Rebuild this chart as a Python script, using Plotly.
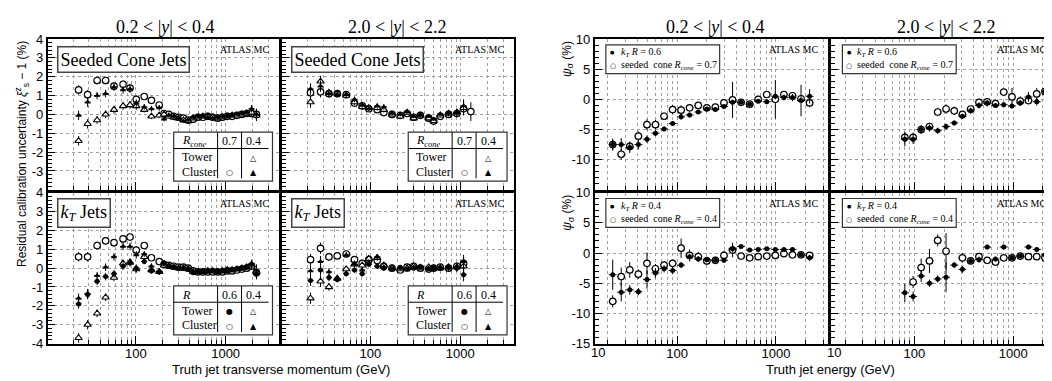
import numpy as np
import plotly.graph_objects as go

W, H = 1052, 381

# ---------------- data ----------------
# Left group: residual calibration uncertainty (%), truth-jet pT (GeV)
pt_central = [23, 29, 37, 46, 57, 72, 86, 101, 124, 149, 182, 206, 233, 264, 299, 339, 384, 435,
              493, 559, 633, 717, 812, 920, 1043, 1181, 1338, 1516, 1718, 1946, 2205]
cone_c_cluster07 = [1.3, 1.05, 1.8, 1.8, 1.5, 1.6, 1.4, 0.8, 0.95, 0.75, 0.5, 0.05, 0.0, -0.1, -0.15, -0.2,
                    -0.3, -0.25, -0.15, -0.15, -0.1, -0.15, -0.2, -0.15, -0.1, -0.1, -0.05, 0.0, 0.05, 0.05, 0.0]
cone_c_cluster04 = [-0.05, 0.65, 1.0, 1.1, 1.45, 1.3, 1.35, 0.6, 0.4, 0.3, 0.35, -0.25, -0.05, -0.1, -0.2, -0.35,
                    -0.3, -0.15, -0.1, -0.1, -0.15, -0.2, -0.15, -0.1, -0.1, -0.05, 0.0, 0.05, 0.1, 0.3, 0.0]
cone_c_tower04 = [-1.4, -0.5, -0.3, 0.0, 0.25, 0.45, 0.5, 0.45, 0.25, -0.1, -0.05, 0.0, -0.1, -0.15, -0.2, -0.3,
                  -0.35, -0.2, -0.15, -0.1, -0.1, -0.15, -0.2, -0.15, -0.1, -0.05, -0.05, 0.0, 0.05, 0.1, -0.05]
kt_c_cluster06 = [0.6, 0.6, 1.2, 1.45, 1.35, 1.55, 1.65, 0.95, 1.2, 0.55, 0.35, 0.2, 0.15, 0.1, 0.05, 0.05,
                  0.0, -0.15, -0.2, -0.2, -0.2, -0.2, -0.2, -0.2, -0.15, -0.15, -0.1, -0.05, 0.0, 0.1, -0.25]
kt_c_tower06 = [-1.9, -1.4, -0.7, -0.45, -0.3, 0.1, 0.3, 0.0, 0.35, -0.15, -0.2, 0.25, 0.1, 0.05, 0.0, 0.0,
                -0.05, -0.25, -0.2, -0.15, -0.15, -0.15, -0.2, -0.15, -0.15, -0.1, -0.05, 0.0, 0.05, 0.2, -0.3]
kt_c_tower04 = [-3.7, -3.0, -2.4, -1.55, -0.5, 0.25, 0.3, -0.05, 0.6, -0.1, -0.2, 0.15, 0.1, 0.05, 0.0, 0.0,
                -0.05, -0.2, -0.2, -0.2, -0.15, -0.15, -0.2, -0.15, -0.1, -0.1, -0.05, 0.0, 0.05, 0.15, -0.2]
kt_c_cluster04 = [-1.6, -1.35, -0.4, 0.05, 0.6, 1.15, 1.15, 0.7, 0.75, 0.1, -0.15, 0.3, 0.15, 0.05, 0.0, 0.0,
                  -0.05, -0.2, -0.2, -0.2, -0.2, -0.15, -0.15, -0.15, -0.1, -0.1, -0.05, 0.0, 0.05, 0.25, -0.1]
err_central = [0.25, 0.25, 0.2, 0.2, 0.2, 0.2, 0.2, 0.2, 0.15, 0.15, 0.15, 0.12, 0.1, 0.1, 0.1, 0.1,
               0.1, 0.1, 0.1, 0.1, 0.1, 0.1, 0.1, 0.1, 0.1, 0.1, 0.1, 0.12, 0.15, 0.2, 0.3]

pt_forward = [21.5, 27.8, 34.5, 42.7, 53.7, 66.4, 81, 96, 119, 141, 174, 215, 256, 303, 360, 446,
              506, 600, 743, 918, 1091, 1315]
cone_f_cluster07 = [1.15, 1.2, 1.1, 1.1, 1.05, 0.6, 0.45, 0.3, 0.25, 0.1, 0.0, -0.05, 0.05, -0.15, -0.05, -0.2,
                    -0.35, -0.1, 0.0, 0.05, 0.3, 0.15]
cone_f_cluster04 = [1.35, 1.5, 1.1, 1.05, 1.05, 0.8, 0.5, 0.3, 0.45, 0.4, 0.05, 0.0, 0.15, -0.1, -0.05, -0.1,
                    -0.25, 0.0, 0.05, 0.1, 0.45, None]
cone_f_tower04 = [0.65, 1.75, 1.15, 1.1, 1.0, 0.65, 0.4, 0.35, 0.35, 0.25, 0.0, -0.1, 0.1, -0.2, -0.05, -0.2,
                  -0.35, -0.05, 0.05, 0.1, 0.35, None]
kt_f_tower06 = [-0.65, -0.1, -0.5, -0.6, -0.3, -0.1, -0.3, 0.2, 0.1, 0.0, -0.05, 0.05, -0.05, 0.0, 0.05, -0.05,
                0.0, 0.0, 0.05, 0.0, -0.35, None]
kt_f_cluster06 = [0.45, 1.05, 0.6, 0.65, 0.75, 0.45, 0.25, 0.45, 0.4, 0.1, 0.0, -0.1, 0.05, 0.1, 0.0, -0.05,
                  0.0, 0.05, 0.0, 0.1, 0.25, None]
kt_f_tower04 = [-1.6, -0.7, -1.0, -0.55, -0.05, 0.2, 0.15, 0.5, 0.55, 0.15, 0.0, -0.05, 0.0, 0.1, 0.0, 0.05,
                0.0, 0.0, 0.05, 0.05, 0.1, None]
kt_f_cluster04 = [-0.15, 0.35, -0.2, -0.6, 0.7, 0.2, -0.1, 0.3, 0.6, 0.05, -0.05, 0.0, -0.1, 0.05, 0.1, 0.0,
                  -0.05, 0.05, 0.0, 0.05, 0.35, None]
err_forward = [0.3, 0.3, 0.2, 0.15, 0.15, 0.15, 0.15, 0.15, 0.15, 0.15, 0.1, 0.1, 0.1, 0.1, 0.1, 0.1,
               0.1, 0.1, 0.15, 0.2, 0.35, 0.5]

# Right group: psi_sigma (%), truth-jet energy (GeV)
e_central = [22.4, 27.3, 33.3, 40.7, 49.7, 60.6, 74, 90.3, 110, 134, 164, 200, 244, 298, 364, 444,
             542, 661, 807, 985, 1202, 1467, 1791, 2186]
psi_c_kt06 = [-7.5, -7.5, -8.0, -7.5, -6.6, -5.6, -4.9, -4.0, -2.9, -2.6, -2.1, -1.6, -1.7, -1.2, -0.5, -0.5,
              -0.8, -0.3, -0.4, 0.5, 0.3, 0.3, -0.2, 0.5]
psi_c_cone07 = [-7.5, -9.1, -7.8, -6.1, -4.2, -4.2, -2.8, -1.7, -1.8, -1.4, -1.0, -1.4, -1.3, -0.6, -0.1, -0.5,
                -0.8, 0.0, 0.8, 0.0, 0.8, 0.6, 0.1, -0.6]
err_psi_c_kt06 = [1.0, 1.1, 0.9, 0.8, 0.6, 0.5, 0.4, 0.4, 0.5, 0.4, 0.3, 0.3, 0.3, 0.3, 0.3, 0.3,
                  0.3, 0.3, 0.4, 0.5, 0.5, 0.6, 2.6, 1.2]
err_psi_c_cone07 = [0.8, 0.9, 0.8, 0.8, 0.9, 0.8, 0.6, 0.8, 0.8, 0.6, 0.4, 0.4, 0.4, 0.4, 3.0, 0.4,
                    0.4, 0.6, 0.5, 3.2, 0.5, 0.6, 0.6, 0.7]
psi_c_kt04 = [-3.6, -6.5, -6.1, -6.4, -4.4, -3.3, -2.6, -2.9, -2.0, -0.6, -1.0, -1.1, -1.2, -1.2, 0.7, 1.1,
              0.5, 0.6, 0.7, 0.6, 0.6, 0.6, -0.3, -0.8]
psi_c_cone04 = [-8.0, -3.9, -2.8, -3.5, -1.7, -2.6, -2.0, -1.7, 0.8, -0.4, -0.6, -1.3, -1.2, -0.4, 0.5, -0.5,
                -0.8, -0.6, -0.5, -0.4, -0.1, -0.3, -0.3, -0.4]
err_psi_c_kt04 = [2.5, 1.5, 0.8, 0.6, 1.5, 0.8, 0.6, 0.6, 0.5, 0.5, 0.5, 0.4, 0.4, 0.4, 0.6, 0.3,
                  0.3, 0.3, 0.3, 0.3, 0.3, 0.3, 0.4, 0.5]
err_psi_c_cone04 = [1.0, 1.5, 1.3, 0.8, 1.8, 0.8, 0.6, 0.6, 1.6, 1.0, 0.8, 0.7, 0.6, 0.8, 1.2, 0.4,
                    0.4, 0.3, 0.3, 0.3, 0.3, 0.3, 0.4, 0.5]

e_forward = [80, 97, 117, 142, 172, 209, 253, 306, 371, 450, 545, 661, 801, 971, 1177, 1426, 1729, 2095, 2540]
psi_f_kt06 = [-6.6, -6.6, -5.0, -4.75, -5.2, -4.5, -3.9, -2.8, -1.9, -1.0, -0.6, -1.0, -0.9, -1.1, -0.6, 0.4,
              -0.4, 1.3, -0.6]
psi_f_cone07 = [-6.3, -6.3, -5.0, -4.5, -2.1, -1.6, -1.9, -2.5, -1.6, -0.5, -0.4, -0.7, 1.2, 0.4, -0.3, -0.2,
                0.9, 1.3, 0.7]
err_psi_f_kt06 = [1.2, 0.8, 0.7, 0.6, 0.5, 0.5, 0.4, 0.4, 0.5, 0.5, 0.6, 0.4, 0.4, 0.4, 0.5, 0.8, 0.6, 0.5, 0.4]
err_psi_f_cone07 = [0.8, 0.8, 0.7, 0.6, 0.7, 0.8, 0.7, 0.5, 0.5, 0.5, 0.6, 0.5, 0.5, 1.5, 0.8, 0.6, 1.0, 0.6, 0.5]
psi_f_kt04 = [-6.6, -7.2, -3.8, -5.0, -4.3, -4.0, -2.0, -2.7, -1.3, -1.1, 1.0, -1.0, 1.0, -0.8, -0.5, 1.0,
              0.6, -0.3, 0.3]
psi_f_cone04 = [None, -4.8, -2.4, -1.3, 2.1, 0.3, None, -0.8, -1.3, -0.6, -1.2, -1.5, -0.8, -0.8, -0.5, -0.6,
                -0.6, -0.8, -0.7]
err_psi_f_kt04 = [1.5, 0.8, 1.0, 0.6, 0.6, 2.5, 0.5, 0.6, 0.5, 0.5, 0.4, 0.4, 0.4, 0.4, 0.4, 0.4, 0.4, 0.6, 0.5]
err_psi_f_cone04 = [0.0, 1.0, 1.5, 2.0, 1.0, 3.0, 0.0, 0.8, 0.5, 0.5, 0.5, 0.5, 0.5, 0.5, 0.5, 0.5, 0.5, 0.7, 0.7]

col_titles = ["0.2 < |<i>y</i>| < 0.4", "2.0 < |<i>y</i>| < 2.2"]
grid_vals = [20, 30, 40, 50, 60, 70, 80, 90, 200, 300, 400, 500, 600, 700, 800, 900, 2000, 3000]

# ---------------- geometry (pixels) ----------------
PANELS = {
    1: dict(x=(40, 272), y=(25, 182), xr=(1.02, 3.60), yr=(-4, 4), group="L", row=0, col=0),
    2: dict(x=(275, 507), y=(25, 182), xr=(1.02, 3.60), yr=(-4, 4), group="L", row=0, col=1),
    3: dict(x=(40, 272), y=(185, 342), xr=(1.02, 3.60), yr=(-4, 4), group="L", row=1, col=0),
    4: dict(x=(275, 507), y=(185, 342), xr=(1.02, 3.60), yr=(-4, 4), group="L", row=1, col=1),
    5: dict(x=(588, 822), y=(25, 182), xr=(1.17, 3.53), yr=(-15, 10), group="R", row=0, col=0),
    6: dict(x=(825, 1052), y=(25, 182), xr=(1.16, 3.453), yr=(-15, 10), group="R", row=0, col=1),
    7: dict(x=(588, 822), y=(185, 342), xr=(1.17, 3.53), yr=(-15, 10), group="R", row=1, col=0),
    8: dict(x=(825, 1052), y=(185, 342), xr=(1.16, 3.453), yr=(-15, 10), group="R", row=1, col=1),
}

def fx(px):
    return px / W

def fy(py):
    return 1 - py / H

SERIF = "Liberation Serif, Times New Roman, serif"
SANS = "Liberation Sans, Arial, sans-serif"
GRID = "#a0a0a0"

fig = go.Figure()

STY = {
    "oc": dict(symbol="circle", size=6.5, color="white", line=dict(color="black", width=1.2)),
    "fc": dict(symbol="circle", size=5, color="black", line=dict(color="black", width=0)),
    "ot": dict(symbol="triangle-up", size=6.5, color="white", line=dict(color="black", width=1.1)),
    "ft": dict(symbol="triangle-up", size=5.5, color="black", line=dict(color="black", width=0)),
}

def add(i, xs, ys, errs, sty, hw=0.04):
    keep = [k for k, v in enumerate(ys) if v is not None]
    x = np.array([xs[k] for k in keep], dtype=float)
    y = [ys[k] for k in keep]
    e = [errs[k] for k in keep]
    xp = x * (10 ** hw - 1)
    xm = x * (1 - 10 ** -hw)
    sfx = "" if i == 1 else str(i)
    fig.add_trace(go.Scatter(
        x=x, y=y, mode="markers", xaxis="x" + sfx, yaxis="y" + sfx,
        marker=STY[sty],
        error_y=dict(type="data", array=e, color="black", thickness=1, width=0),
        error_x=dict(type="data", array=xp, arrayminus=xm, symmetric=False, color="black", thickness=1, width=0),
        showlegend=False, hoverinfo="skip"))

# left group
add(1, pt_central, cone_c_cluster07, err_central, "oc", 0.035)
add(1, pt_central, cone_c_tower04, err_central, "ot", 0.035)
add(1, pt_central, cone_c_cluster04, err_central, "ft", 0.035)
add(2, pt_forward, cone_f_cluster07, err_forward, "oc", 0.035)
add(2, pt_forward, cone_f_tower04, err_forward, "ot", 0.035)
add(2, pt_forward, cone_f_cluster04, err_forward, "ft", 0.035)
add(3, pt_central, kt_c_cluster06, err_central, "oc", 0.035)
add(3, pt_central, kt_c_tower04, err_central, "ot", 0.035)
add(3, pt_central, kt_c_tower06, err_central, "fc", 0.035)
add(3, pt_central, kt_c_cluster04, err_central, "ft", 0.035)
add(4, pt_forward, kt_f_cluster06, err_forward, "oc", 0.035)
add(4, pt_forward, kt_f_tower04, err_forward, "ot", 0.035)
add(4, pt_forward, kt_f_tower06, err_forward, "fc", 0.035)
add(4, pt_forward, kt_f_cluster04, err_forward, "ft", 0.035)
# right group
add(5, e_central, psi_c_cone07, err_psi_c_cone07, "oc")
add(5, e_central, psi_c_kt06, err_psi_c_kt06, "fc")
add(6, e_forward, psi_f_cone07, err_psi_f_cone07, "oc")
add(6, e_forward, psi_f_kt06, err_psi_f_kt06, "fc")
add(7, e_central, psi_c_cone04, err_psi_c_cone04, "oc")
add(7, e_central, psi_c_kt04, err_psi_c_kt04, "fc")
add(8, e_forward, psi_f_cone04, err_psi_f_cone04, "oc")
add(8, e_forward, psi_f_kt04, err_psi_f_kt04, "fc")

layout = dict(width=W, height=H, margin=dict(l=0, r=0, t=0, b=0), paper_bgcolor="white",
              plot_bgcolor="white", showlegend=False)
tickfont = dict(family=SANS, size=13, color="black")
for i, p in PANELS.items():
    sfx = "" if i == 1 else str(i)
    show_x = p["row"] == 1
    xa = dict(domain=[fx(p["x"][0]), fx(p["x"][1])], type="log", range=list(p["xr"]),
              anchor="y" + sfx, showline=True, mirror=True, linecolor="black", linewidth=2,
              ticks="inside", ticklen=8, tickwidth=1, tickcolor="black",
              tickmode="array", tickvals=[100, 1000], ticktext=["100", "1000"],
              showticklabels=show_x, tickfont=tickfont, ticklabelstandoff=-3,
              showgrid=True, gridcolor=GRID, griddash="dot", gridwidth=1, zeroline=False,
              minor=dict(tickmode="array", tickvals=grid_vals, ticks="inside", ticklen=4,
                         tickcolor="black", showgrid=True, gridcolor=GRID, griddash="dot", gridwidth=1))
    if p["group"] == "L":
        yv = [-3, -2, -1, 0, 1, 2, 3, 4] if p["row"] == 0 else [-4, -3, -2, -1, 0, 1, 2, 3, 4]
        mdt = 0.2
    else:
        yv = [-10, -5, 0, 5, 10] if p["row"] == 0 else [-15, -10, -5, 0, 5, 10]
        mdt = 1
    ya = dict(domain=[fy(p["y"][1]), fy(p["y"][0])], range=list(p["yr"]), anchor="x" + sfx,
              showline=True, mirror=True, linecolor="black", linewidth=2,
              ticks="inside", ticklen=7, tickwidth=1, tickcolor="black",
              tickmode="array", tickvals=yv, ticktext=[str(v) for v in yv],
              showticklabels=(p["col"] == 0), tickfont=tickfont,
              showgrid=True, gridcolor=GRID, griddash="dot", gridwidth=1, zeroline=False,
              minor=dict(tickmode="linear", tick0=0, dtick=mdt, ticks="inside", ticklen=4,
                         tickcolor="black", showgrid=False))
    layout["xaxis" + sfx] = xa
    layout["yaxis" + sfx] = ya
fig.update_layout(**layout)

ann = []
shapes = []

def text(px, py, s, size, family=SERIF, xanchor="center", yanchor="middle", angle=0, **kw):
    ann.append(dict(x=fx(px), y=fy(py), xref="paper", yref="paper", text=s, showarrow=False,
                    xanchor=xanchor, yanchor=yanchor, textangle=angle,
                    font=dict(family=family, size=size, color="black"), **kw))

def rect(x0, y0, x1, y1, color="black", width=1):
    shapes.append(dict(type="rect", xref="paper", yref="paper", x0=fx(x0), x1=fx(x1), y0=fy(y1), y1=fy(y0),
                       line=dict(color=color, width=width), fillcolor="white", layer="above"))

def line(x0, y0, x1, y1, width=1):
    shapes.append(dict(type="line", xref="paper", yref="paper", x0=fx(x0), x1=fx(x1), y0=fy(y0), y1=fy(y1),
                       line=dict(color="black", width=width), layer="above"))

# column titles
text(158, 12, col_titles[0], 18)
text(390, 12, col_titles[1], 18)
text(709, 12, col_titles[0], 18)
text(940, 12, col_titles[1], 18)

# ATLAS MC
for i, p in PANELS.items():
    right = p["x"][1] - 7
    if i in (6, 8):
        right = 1043
    text(right, p["y"][0] + 11, "ATLAS MC", 10, xanchor="right")

# jet algorithm labels
for i in (1, 2):
    p = PANELS[i]
    text(p["x"][0] + 9, p["y"][0] + 7, "Seeded Cone Jets", 18, xanchor="left", yanchor="top",
         bordercolor="#444", borderwidth=1.5, borderpad=2, bgcolor="white")
for i in (3, 4):
    p = PANELS[i]
    text(p["x"][0] + 9, p["y"][0] + 5, "<i>k<sub>T</sub></i> Jets", 18, xanchor="left", yanchor="top",
         bordercolor="#444", borderwidth=1.5, borderpad=2, bgcolor="white")

# legend tables (left group)
def table(p, header, c1, c2, marks):
    x1p, y0p = p["x"][1], p["y"][0]
    bl, br = x1p - 106, x1p - 7
    bt, bb = y0p + 97, y0p + 148
    rect(bl, bt, br, bb, color="#333", width=1.2)
    line(bl, y0p + 114, br - 4, y0p + 114)
    line(bl + 44, bt, bl + 44, bb - 3)
    line(bl + 68, bt, bl + 68, bb - 3)
    text(bl + 6, y0p + 106, header, 12, xanchor="left")
    text(bl + 56, y0p + 106, c1, 12)
    text(bl + 80, y0p + 106, c2, 12)
    text(bl + 6, y0p + 123, "Tower", 12, xanchor="left")
    text(bl + 6, y0p + 138, "Cluster", 12, xanchor="left")
    for r, row in enumerate(marks):
        for c, m in enumerate(row):
            if m:
                text(bl + (56 if c == 0 else 80), y0p + 124 + 15 * r, m, 8, family="DejaVu Sans")

for i in (1, 2):
    table(PANELS[i], "<i>R<sub>cone</sub></i>", "0.7", "0.4", [["", "△"], ["○", "▲"]])
for i in (3, 4):
    table(PANELS[i], "<i>R</i>", "0.6", "0.4", [["●", "△"], ["○", "▲"]])

# legends (right group)
def legend(p, l1, l2):
    x0p, y0p = p["x"][0], p["y"][0]
    rect(x0p + 11, y0p + 6, x0p + 125, y0p + 36, color="#333", width=1.2)
    text(x0p + 18, y0p + 14, "●", 5, family="DejaVu Sans")
    text(x0p + 18, y0p + 28, "○", 7, family="DejaVu Sans")
    text(x0p + 24, y0p + 14, l1, 10, xanchor="left")
    text(x0p + 24, y0p + 28, l2, 10, xanchor="left")

legend(PANELS[5], "<i>k<sub>T</sub> R</i> = 0.6", "seeded  cone <i>R<sub>cone</sub></i> = 0.7")
legend(PANELS[6], "<i>k<sub>T</sub> R</i> = 0.6", "seeded  cone <i>R<sub>cone</sub></i> = 0.7")
legend(PANELS[7], "<i>k<sub>T</sub> R</i> = 0.4", "seeded  cone <i>R<sub>cone</sub></i> = 0.4")
legend(PANELS[8], "<i>k<sub>T</sub> R</i> = 0.4", "seeded  cone <i>R<sub>cone</sub></i> = 0.4")

# "10" labels at the left edge of the energy axes
for i in (7, 8):
    p = PANELS[i]
    text(p["x"][0] + 3, 351, "10", 13, family=SANS)

# axis titles
text(274, 369, "Truth jet transverse momentum (GeV)", 13, family=SANS)
text(824, 369, "Truth jet energy (GeV)", 13, family=SANS)
text(14, 25, "Residual calibration uncertainty <i>ξ</i><sup>z</sup><sub>s</sub> − 1 (%)", 12,
     family=SANS, angle=-90, yanchor="top")
for i in (5, 7):
    p = PANELS[i]
    text(561, p["y"][0], "<i>ψ</i><sub>σ</sub> (%)", 12, family=SANS, angle=-90, yanchor="top")

fig.update_layout(annotations=ann, shapes=shapes)
fig.write_html("out.html")
